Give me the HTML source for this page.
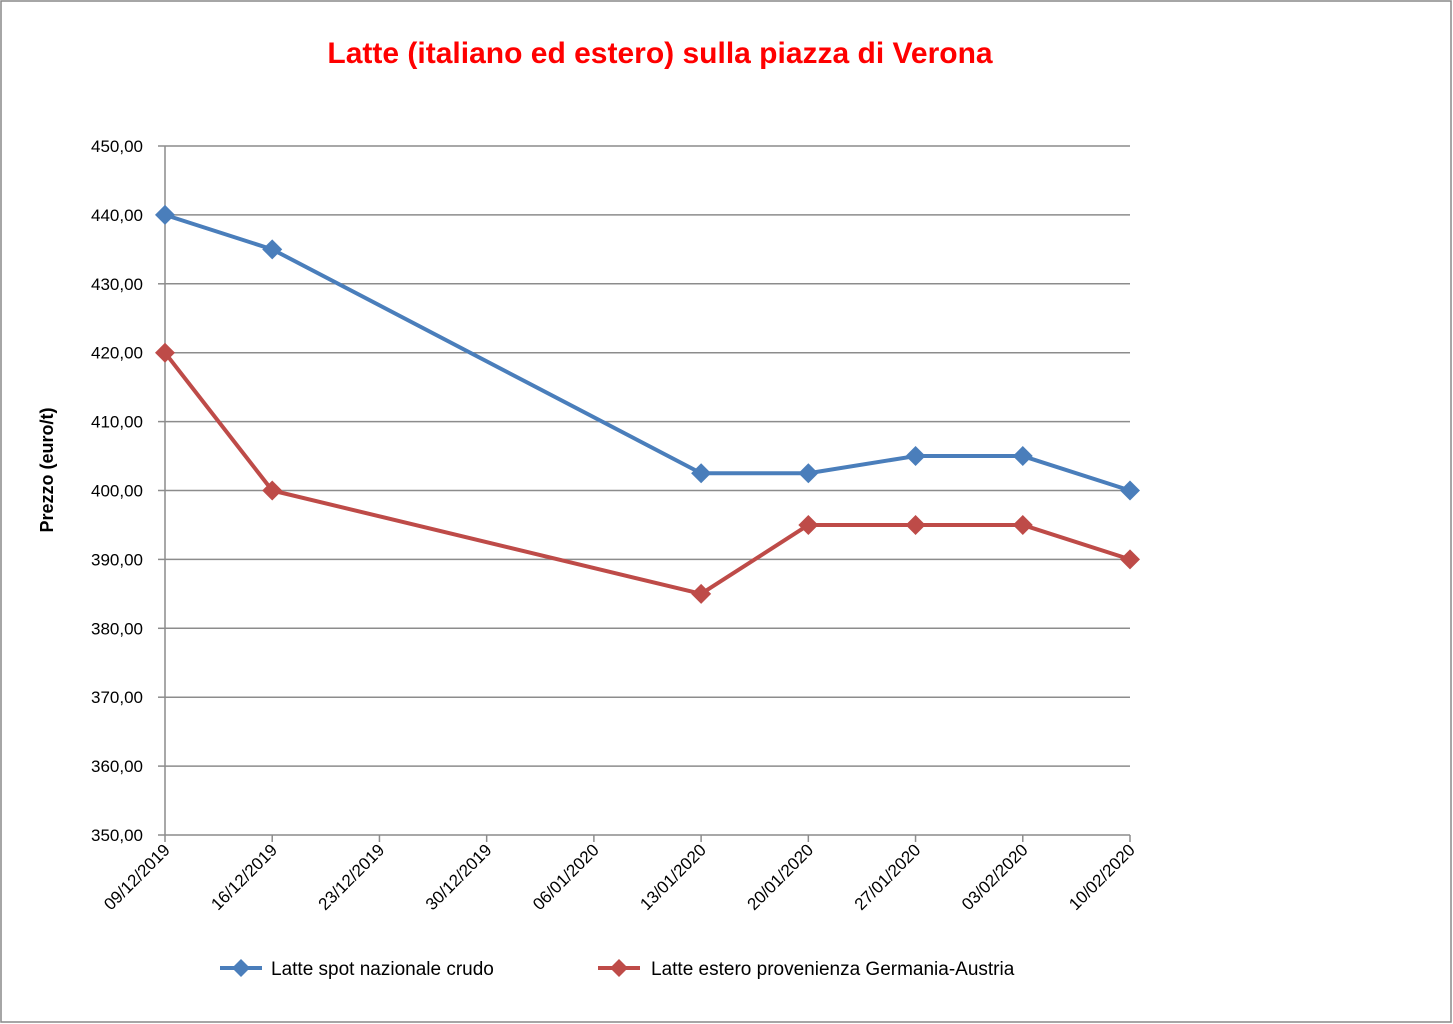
<!DOCTYPE html>
<html><head><meta charset="utf-8"><style>
body{margin:0;background:#fff;}
svg{display:block;font-family:"Liberation Sans",sans-serif;}
</style></head><body>
<svg width="1453" height="1024">
<rect x="1" y="1" width="1450" height="1021" fill="#fff" stroke="#888" stroke-width="1.5"/>
<text x="660" y="63" text-anchor="middle" fill="#ff0000" font-size="30" font-weight="bold">Latte (italiano ed estero) sulla piazza di Verona</text>
<text transform="translate(53,470) rotate(-90)" text-anchor="middle" font-size="18" font-weight="bold">Prezzo (euro/t)</text>
<g id="grid"></g><g id="axes"></g><g id="series"></g>
<g>
<line x1="220" y1="968" x2="262" y2="968" stroke="#4a7ebb" stroke-width="4"/>
<path d="M241 959 L250 968 L241 977 L232 968Z" fill="#4a7ebb"/>
<text x="271" y="975" font-size="19">Latte spot nazionale crudo</text>
<line x1="598" y1="968" x2="640" y2="968" stroke="#be4b48" stroke-width="4"/>
<path d="M619 959 L628 968 L619 977 L610 968Z" fill="#be4b48"/>
<text x="651" y="975" font-size="19">Latte estero provenienza Germania-Austria</text>
</g>
</svg>
<script>
const categories=["09/12/2019","16/12/2019","23/12/2019","30/12/2019","06/01/2020","13/01/2020","20/01/2020","27/01/2020","03/02/2020","10/02/2020"];
const nationalValues=[440,435,null,null,null,402.5,402.5,405,405,400];
const foreignValues=[420,400,null,null,null,385,395,395,395,390];
const yTicks=[350,360,370,380,390,400,410,420,430,440,450];
const NS="http://www.w3.org/2000/svg";
const X0=165,X1=1130,Y0=835,Y1=146,YMIN=350,YMAX=450;
function xs(i){return X0+(X1-X0)*i/(categories.length-1);}
function ys(v){return Y0-(v-YMIN)/(YMAX-YMIN)*(Y0-Y1);}
function mk(tag,attrs,parent){const e=document.createElementNS(NS,tag);for(const k in attrs)e.setAttribute(k,attrs[k]);parent.appendChild(e);return e;}
const grid=document.getElementById('grid'),axes=document.getElementById('axes'),ser=document.getElementById('series');
yTicks.forEach(t=>{
 const y=ys(t);
 if(t!==YMIN){const g=mk('line',{x1:X0,x2:X1,y1:y,y2:y,stroke:'#8c8c8c','stroke-width':1.5},grid);
 
 }
 mk('line',{x1:X0-7,x2:X0,y1:y,y2:y,stroke:'#8c8c8c','stroke-width':1.5},axes);
 const tx=mk('text',{x:143,y:y+6,'text-anchor':'end','font-size':17},axes);
 tx.textContent=t.toFixed(2).replace('.',',');
 
 
});
const ya=mk('line',{x1:X0,x2:X0,y1:Y1,y2:Y0,stroke:'#8c8c8c','stroke-width':1.5},axes);


const xa=mk('line',{x1:X0,x2:X1,y1:Y0,y2:Y0,stroke:'#8c8c8c','stroke-width':1.5},axes);


categories.forEach((c,i)=>{
 const x=xs(i);
 mk('line',{x1:x,x2:x,y1:Y0,y2:Y0+7,stroke:'#8c8c8c','stroke-width':1.5},axes);
 const tx=mk('text',{transform:`translate(${x+6},${Y0+16}) rotate(-45)`,'text-anchor':'end','font-size':17},axes);
 tx.textContent=c;
 
 
});
function drawSeries(vals,color,name){
 const pts=[];vals.forEach((v,i)=>{if(v!==null)pts.push([xs(i),ys(v)]);});
 const pl=mk('polyline',{points:pts.map(p=>p.join(',')).join(' '),fill:'none',stroke:color,'stroke-width':4,'stroke-linejoin':'round'},ser);
 
 
 pts.forEach(p=>{
  const d=mk('path',{d:`M${p[0]} ${p[1]-10} L${p[0]+10} ${p[1]} L${p[0]} ${p[1]+10} L${p[0]-10} ${p[1]}Z`,fill:color},ser);
  
  
 });
}
drawSeries(nationalValues,'#4a7ebb','national');
drawSeries(foreignValues,'#be4b48','foreign');
</script>
</body></html>
